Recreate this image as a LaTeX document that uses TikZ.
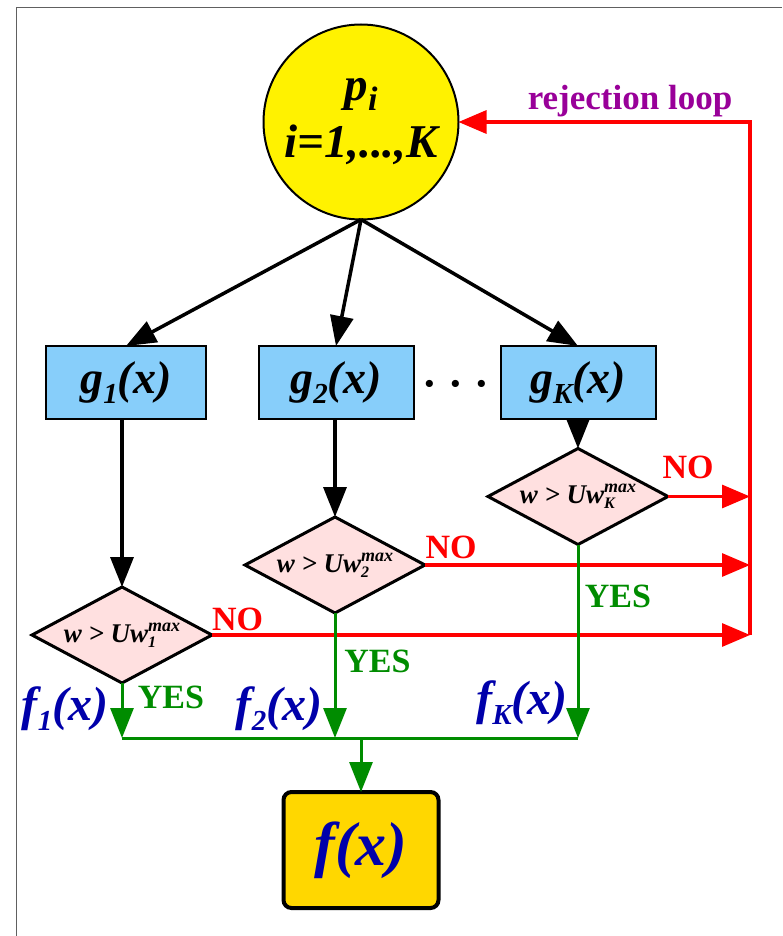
\documentclass[tikz,border=0pt]{standalone}
\usepackage{fontspec}
\setmainfont{Liberation Serif}
\usetikzlibrary{shapes.geometric,arrows.meta}
\definecolor{gboxc}{HTML}{87CEFA}
\definecolor{dfill}{HTML}{FFE0E0}
\definecolor{fgold}{HTML}{FFD700}
\definecolor{ygreen}{HTML}{008C00}
\definecolor{fblue}{HTML}{0000AA}
\definecolor{lpurple}{HTML}{990099}
\definecolor{framegray}{HTML}{606060}
\newcommand\fs[1]{\fontsize{#1}{#1}\selectfont}
\newcommand\wsub[2]{{\fs{18}\rlap{\raisebox{-5pt}{\fs{16}#2}}\raisebox{11pt}{#1}}}
\newcommand\gsub[1]{\raisebox{-10pt}{\fs{29}#1}}
\begin{document}
\begin{tikzpicture}[x=1pt,y=-1pt,
  every node/.style={inner sep=0pt, outer sep=0pt},
  blk/.style={line width=3.5pt, -{Triangle[length=30pt,width=23pt]}},
  redl/.style={draw=red, line width=3.2pt},
  redarr/.style={redl, -{Triangle[length=28pt,width=23pt]}},
  grl/.style={draw=ygreen, line width=3pt},
  grarr/.style={grl, -{Triangle[length=30pt,width=23pt]}},
  gbox/.style={draw, line width=2pt, fill=gboxc, minimum width=155pt, minimum height=73pt, font=\fs{46}\bfseries\itshape},
  dec/.style={diamond, draw, line width=3pt, fill=dfill, aspect=1.875, minimum width=180pt, minimum height=96pt, font=\fs{27}\bfseries\itshape},
  nolab/.style={text=red, font=\fs{34}\bfseries, anchor=base},
  yeslab/.style={text=ygreen, font=\fs{34}\bfseries, anchor=base},
  flab/.style={text=fblue, font=\fs{48}\bfseries\itshape, anchor=base},
]
\useasboundingbox (0,0) rectangle (782,936);
\draw[framegray, line width=1.5pt] (16.5,936) -- (16.5,7.5) -- (782,7.5);

\node[circle, draw, line width=2pt, fill=yellow, minimum size=195pt, align=center, font=\fs{47}\bfseries\itshape] (p) at (361,122) {{p\raisebox{-10pt}{\fs{34}i}}\\[10pt] i=1,...,K};

\node[gbox, minimum width=160pt] (g1) at (126,382.5) {g\gsub{1}(x)};
\node[gbox] (g2) at (336,382.5) {g\gsub{2}(x)};
\node[gbox] (gK) at (578,382.5) {g\gsub{K}(x)};
\node[font=\fs{44}\bfseries, anchor=base] (dots) at (456,398) {· · ·};

\node[dec] (d1) at (122,635) {w > Uw\wsub{max}{1}};
\node[dec] (d2) at (335,565) {w > Uw\wsub{max}{2}};
\node[dec] (dK) at (578,496.5) {w > Uw\wsub{max}{K}};

\node[draw, line width=4pt, rounded corners=8pt, fill=fgold, minimum width=155pt, minimum height=116pt, text=fblue, font=\fs{62}\bfseries\itshape] (fx) at (361,850) {f(x)};

\draw[blk] (p.south) -- (g1.north);
\draw[blk] (p.south) -- (g2.north);
\draw[blk] (p.south) -- (gK.north);
\draw[blk] (d1.north |- g1.south) -- (d1.north);
\draw[blk] (d2.north |- g2.south) -- (d2.north);
\draw[blk] (dK.north |- gK.south) -- (dK.north);

\coordinate (rl) at (750,122);
\draw[redarr] (d1.east) -- (d1.east -| rl);
\draw[redarr] (d2.east) -- (d2.east -| rl);
\draw[redarr] (dK.east) -- (dK.east -| rl);
\draw[redarr] (d1.east -| rl) -- (rl) -- (p.east);

\coordinate (gj) at (361,738);
\draw[grarr] (d1.south) -- (d1.south |- gj);
\draw[grarr] (d2.south) -- (d2.south |- gj);
\draw[grarr] (dK.south) -- (dK.south |- gj);
\draw[grl] (d1.south |- gj) -- (dK.south |- gj);
\draw[grarr] (gj) -- (fx.north);

\node[text=lpurple, font=\fs{35}\bfseries, anchor=base] (rej) at (630,110) {rejection loop};
\node[nolab] (no1) at (237.5,630) {NO};
\node[nolab] (no2) at (451,558) {NO};
\node[nolab] (noK) at (688,478) {NO};
\node[yeslab] (yes1) at (171,708) {YES};
\node[yeslab] (yes2) at (377.5,672) {YES};
\node[yeslab] (yesK) at (618,607) {YES};
\node[flab] (f1) at (65,720) {f\gsub{1}(x)};
\node[flab] (f2) at (279,720) {f\gsub{2}(x)};
\node[flab] (fK) at (522,714) {f\gsub{K}(x)};
\end{tikzpicture}
\end{document}
